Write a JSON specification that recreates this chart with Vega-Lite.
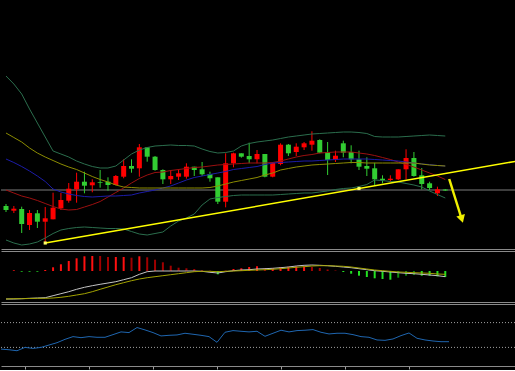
{
  "$schema": "https://vega.github.io/schema/vega-lite/v6.json",
  "background": "#000000",
  "padding": 0,
  "spacing": 2,
  "config": {
    "view": {"stroke": null},
    "axis": {"domainColor": "#8a8a8a", "domainWidth": 1, "ticks": false, "labels": false, "grid": false, "title": null}
  },
  "resolve": {"scale": {"color": "independent", "x": "independent", "y": "independent"}},
  "datasets": {
    "bars": [
      {"i":0,"o":44,"h":46,"l":38,"c":40,"bu":174,"bl":10,"m1":60,"m2":91,"m3":117,"hv":0,"hs":"pu","s1":-28,"s2":-28,"rsi":27.3},
      {"i":1,"o":39.3,"h":44,"l":37,"c":41.3,"bu":166,"bl":7,"m1":57,"m2":87.5,"m3":112.5,"hv":0.7,"hs":"pu","s1":-28,"s2":-27.7,"rsi":26.2},
      {"i":2,"o":41,"h":43.3,"l":17,"c":26,"bu":156,"bl":5,"m1":54,"m2":83.5,"m3":108,"hv":-0.7,"hs":"nu","s1":-27.7,"s2":-27.7,"rsi":24.6},
      {"i":3,"o":25,"h":40,"l":20,"c":37,"bu":141,"bl":6,"m1":52,"m2":79,"m3":102,"hv":-0.7,"hs":"nu","s1":-27.3,"s2":-27.5,"rsi":30},
      {"i":4,"o":36.7,"h":40,"l":22,"c":28.3,"bu":127,"bl":8,"m1":49.5,"m2":74,"m3":97,"hv":-0.7,"hs":"nu","s1":-27,"s2":-27.3,"rsi":28.4},
      {"i":5,"o":28.3,"h":43,"l":6.7,"c":31.7,"bu":113,"bl":12,"m1":46.5,"m2":68.5,"m3":93,"hv":1,"hs":"pu","s1":-26.7,"s2":-27.3,"rsi":30},
      {"i":6,"o":30.7,"h":57.3,"l":30.7,"c":42.3,"bu":99,"bl":16.5,"m1":43.5,"m2":61,"m3":89.5,"hv":3.7,"hs":"pu","s1":-24.7,"s2":-27,"rsi":33.8},
      {"i":7,"o":41.7,"h":57,"l":40,"c":50,"bu":96,"bl":20,"m1":41,"m2":58,"m3":86,"hv":6.7,"hs":"pu","s1":-22.7,"s2":-26.3,"rsi":37.6},
      {"i":8,"o":49.3,"h":67,"l":47.3,"c":61.3,"bu":93,"bl":21.5,"m1":40,"m2":56,"m3":83,"hv":10,"hs":"pu","s1":-20.7,"s2":-25.3,"rsi":43},
      {"i":9,"o":60.7,"h":77.3,"l":47.3,"c":68.3,"bu":89,"bl":22.5,"m1":40.5,"m2":54.5,"m3":80.5,"hv":12.7,"hs":"pu","s1":-18.3,"s2":-24,"rsi":47.4},
      {"i":10,"o":68.3,"h":78.3,"l":56.7,"c":64.3,"bu":86,"bl":23,"m1":43,"m2":53.5,"m3":77,"hv":14.7,"hs":"pu","s1":-16.3,"s2":-22.7,"rsi":45.7},
      {"i":11,"o":64.7,"h":70.7,"l":57.7,"c":67.7,"bu":83.5,"bl":22.5,"m1":45.5,"m2":53,"m3":73.5,"hv":15,"hs":"pu","s1":-14.7,"s2":-20.7,"rsi":47.4},
      {"i":12,"o":67.7,"h":80,"l":62.3,"c":67,"bu":82,"bl":22,"m1":48.5,"m2":53.5,"m3":70.5,"hv":15,"hs":"pd","s1":-13.3,"s2":-18.3,"rsi":46.3},
      {"i":13,"o":68.3,"h":72.7,"l":59.3,"c":65,"bu":82,"bl":21.5,"m1":53,"m2":54,"m3":68,"hv":14,"hs":"pd","s1":-12,"s2":-16,"rsi":46.3},
      {"i":14,"o":65,"h":75,"l":64.7,"c":74,"bu":84,"bl":21.5,"m1":57.5,"m2":54,"m3":65,"hv":14,"hs":"pu","s1":-10.7,"s2":-13.7,"rsi":50.6},
      {"i":15,"o":73.3,"h":90.7,"l":71.7,"c":84,"bu":90,"bl":21,"m1":62,"m2":54.5,"m3":63,"hv":14,"hs":"pu","s1":-8.7,"s2":-11.7,"rsi":55},
      {"i":16,"o":84,"h":90.7,"l":77.3,"c":81.3,"bu":96,"bl":18.5,"m1":67,"m2":55,"m3":62.5,"hv":13.3,"hs":"pd","s1":-6.7,"s2":-9.7,"rsi":53.9},
      {"i":17,"o":81.7,"h":106,"l":73.3,"c":102.7,"bu":100,"bl":16,"m1":71.5,"m2":57,"m3":62,"hv":14.7,"hs":"pu","s1":-3.3,"s2":-8,"rsi":62},
      {"i":18,"o":102.7,"h":102.7,"l":88.3,"c":93.3,"bu":102.5,"bl":15,"m1":75,"m2":58.5,"m3":62,"hv":13.7,"hs":"pd","s1":-0.7,"s2":-6.7,"rsi":58.2},
      {"i":19,"o":93.3,"h":94,"l":79.3,"c":80,"bu":104,"bl":16.5,"m1":77.5,"m2":60,"m3":62,"hv":11.3,"hs":"pd","s1":0,"s2":-5.7,"rsi":53.9},
      {"i":20,"o":80,"h":80.7,"l":66,"c":70.7,"bu":104.5,"bl":18,"m1":78,"m2":62,"m3":62,"hv":8.7,"hs":"pd","s1":0,"s2":-4.7,"rsi":48.5},
      {"i":21,"o":70.7,"h":80,"l":66,"c":74,"bu":105,"bl":24,"m1":79.5,"m2":64,"m3":62,"hv":5.3,"hs":"pd","s1":0,"s2":-3.7,"rsi":49.5},
      {"i":22,"o":73.3,"h":80.7,"l":70,"c":76.7,"bu":104.5,"bl":29,"m1":80.5,"m2":67,"m3":62,"hv":3.3,"hs":"pd","s1":0,"s2":-2.7,"rsi":50.1},
      {"i":23,"o":73.3,"h":86.7,"l":71.3,"c":83.3,"bu":104.5,"bl":32,"m1":81.5,"m2":70,"m3":62,"hv":2.7,"hs":"pd","s1":0,"s2":-1.7,"rsi":52.8},
      {"i":24,"o":83.3,"h":83.3,"l":74,"c":80,"bu":104,"bl":36,"m1":82.5,"m2":72.5,"m3":62,"hv":2,"hs":"pd","s1":0,"s2":-0.7,"rsi":51.2},
      {"i":25,"o":80.7,"h":88,"l":74,"c":75.7,"bu":101,"bl":45,"m1":83,"m2":74,"m3":62,"hv":0.7,"hs":"pd","s1":-0.3,"s2":-0.3,"rsi":49.5},
      {"i":26,"o":76,"h":78.3,"l":68.3,"c":71.7,"bu":98.5,"bl":51,"m1":84,"m2":75.5,"m3":62.5,"hv":0.3,"hs":"pd","s1":-1.3,"s2":-0.3,"rsi":47.4},
      {"i":27,"o":72.7,"h":72.7,"l":46,"c":48.3,"bu":97,"bl":52.5,"m1":85,"m2":77,"m3":64,"hv":-3.3,"hs":"nu","s1":-2,"s2":-0.7,"rsi":38.2},
      {"i":28,"o":48.3,"h":96.7,"l":42.7,"c":86.7,"bu":97.5,"bl":53.5,"m1":85.5,"m2":78.5,"m3":66,"hv":0.3,"hs":"pu","s1":-0.7,"s2":-0.3,"rsi":54.4},
      {"i":29,"o":86.7,"h":97.3,"l":82.7,"c":96.7,"bu":99,"bl":54.5,"m1":86,"m2":80.5,"m3":68,"hv":2,"hs":"pu","s1":0.3,"s2":0,"rsi":57.1},
      {"i":30,"o":96.7,"h":96.7,"l":92.3,"c":93.3,"bu":104,"bl":55,"m1":86.5,"m2":81.5,"m3":69.5,"hv":2.7,"hs":"pu","s1":1,"s2":0.3,"rsi":56},
      {"i":31,"o":94,"h":107.3,"l":86.7,"c":90.7,"bu":106.5,"bl":55,"m1":87,"m2":82.5,"m3":71,"hv":4,"hs":"pu","s1":1.3,"s2":0.7,"rsi":55},
      {"i":32,"o":90.7,"h":100,"l":86.7,"c":96,"bu":108,"bl":55,"m1":87,"m2":83.5,"m3":72.5,"hv":4.7,"hs":"pu","s1":2,"s2":1,"rsi":56},
      {"i":33,"o":96,"h":96,"l":72.7,"c":73.3,"bu":109,"bl":55,"m1":87,"m2":85.5,"m3":75,"hv":3,"hs":"pd","s1":2.3,"s2":1.3,"rsi":47.9},
      {"i":34,"o":73.3,"h":88,"l":72.7,"c":87.3,"bu":110,"bl":55,"m1":87.5,"m2":87,"m3":77,"hv":2.7,"hs":"pu","s1":2.7,"s2":1.7,"rsi":52.8},
      {"i":35,"o":86,"h":106.7,"l":84.7,"c":105.3,"bu":111.5,"bl":55.5,"m1":89,"m2":87.5,"m3":80,"hv":4,"hs":"pu","s1":3.3,"s2":2.3,"rsi":57.7},
      {"i":36,"o":105.3,"h":106,"l":94,"c":96.7,"bu":113,"bl":56,"m1":91,"m2":88,"m3":81.5,"hv":4.3,"hs":"pu","s1":4,"s2":3,"rsi":55},
      {"i":37,"o":98,"h":106.7,"l":94,"c":103.3,"bu":114,"bl":56.5,"m1":93,"m2":88.5,"m3":83,"hv":4.7,"hs":"pu","s1":5,"s2":3.7,"rsi":57.1},
      {"i":38,"o":102.7,"h":108,"l":100,"c":106.7,"bu":115,"bl":57,"m1":94.5,"m2":89,"m3":84,"hv":4.7,"hs":"pu","s1":5.7,"s2":4.3,"rsi":57.7},
      {"i":39,"o":105.3,"h":118.7,"l":99.3,"c":109.3,"bu":116,"bl":57,"m1":95.5,"m2":89,"m3":85,"hv":4,"hs":"pd","s1":6,"s2":5,"rsi":58.7},
      {"i":40,"o":110,"h":110.7,"l":96.7,"c":97.3,"bu":116.5,"bl":58,"m1":97,"m2":89.5,"m3":85.5,"hv":3,"hs":"pd","s1":5.7,"s2":5.3,"rsi":54.4},
      {"i":41,"o":98,"h":108,"l":75,"c":90,"bu":117,"bl":59,"m1":97.5,"m2":90,"m3":86,"hv":1.5,"hs":"pd","s1":5.3,"s2":5.3,"rsi":51.7},
      {"i":42,"o":90,"h":99.3,"l":88,"c":94.3,"bu":117.5,"bl":60.5,"m1":98,"m2":90.5,"m3":86.5,"hv":0.5,"hs":"pd","s1":4.7,"s2":5,"rsi":52.8},
      {"i":43,"o":106.7,"h":109.3,"l":92.7,"c":97.3,"bu":118,"bl":61.5,"m1":98,"m2":91,"m3":87,"hv":-1,"hs":"nu","s1":4,"s2":4.7,"rsi":52.8},
      {"i":44,"o":98,"h":104.7,"l":86.7,"c":90.7,"bu":118,"bl":62,"m1":98,"m2":91,"m3":87.5,"hv":-2.7,"hs":"nu","s1":3.3,"s2":4,"rsi":50.6},
      {"i":45,"o":90.7,"h":99.3,"l":80,"c":83.3,"bu":117.5,"bl":63.5,"m1":97,"m2":91,"m3":87.5,"hv":-4.7,"hs":"nu","s1":2.3,"s2":3,"rsi":47.4},
      {"i":46,"o":84,"h":92.7,"l":74,"c":81.3,"bu":116.5,"bl":65.5,"m1":96,"m2":91,"m3":87,"hv":-6,"hs":"nu","s1":1.3,"s2":2,"rsi":46.3},
      {"i":47,"o":81.7,"h":87.3,"l":65,"c":70.7,"bu":113.5,"bl":70,"m1":94.5,"m2":90.5,"m3":87,"hv":-7.3,"hs":"nu","s1":0.3,"s2":1,"rsi":42},
      {"i":48,"o":71.3,"h":74.7,"l":66.7,"c":70,"bu":113,"bl":69.5,"m1":92.5,"m2":90,"m3":87,"hv":-8,"hs":"nu","s1":-0.3,"s2":0.3,"rsi":41.4},
      {"i":49,"o":70,"h":74.7,"l":68.3,"c":71.3,"bu":113,"bl":68.5,"m1":90.5,"m2":89.5,"m3":87,"hv":-8.7,"hs":"nu","s1":-1,"s2":-0.3,"rsi":43.6},
      {"i":50,"o":70.7,"h":80.7,"l":70,"c":80.7,"bu":113,"bl":68,"m1":88,"m2":89,"m3":87,"hv":-6.7,"hs":"nd","s1":-1.7,"s2":-1,"rsi":49},
      {"i":51,"o":80.7,"h":100.7,"l":70.7,"c":92,"bu":113.5,"bl":66.5,"m1":85.5,"m2":88,"m3":87,"hv":-4.7,"hs":"nd","s1":-2.3,"s2":-1.3,"rsi":53.3},
      {"i":52,"o":92,"h":98,"l":73.3,"c":74,"bu":114,"bl":65,"m1":83,"m2":87,"m3":87,"hv":-4,"hs":"nd","s1":-2.7,"s2":-1.7,"rsi":44.7},
      {"i":53,"o":74.7,"h":82,"l":60.7,"c":66,"bu":114.5,"bl":63,"m1":80,"m2":86,"m3":86,"hv":-4.7,"hs":"nu","s1":-3.3,"s2":-2,"rsi":42},
      {"i":54,"o":66.7,"h":68.3,"l":60,"c":62,"bu":115,"bl":59,"m1":77,"m2":85.5,"m3":85,"hv":-4.7,"hs":"nu","s1":-4,"s2":-2.3,"rsi":40.3},
      {"i":55,"o":56.7,"h":63.3,"l":54,"c":60.7,"bu":114.5,"bl":55.5,"m1":74,"m2":84.5,"m3":84.5,"hv":-5.3,"hs":"nu","s1":-4.7,"s2":-3,"rsi":39.2},
      {"i":56,"o":60.5,"h":61,"l":59,"c":59.5,"bu":114,"bl":52,"m1":70.5,"m2":84,"m3":84,"hv":-6,"hs":"nu","s1":-5.7,"s2":-3.3,"rsi":39.2}
    ],
    "trend": [{"i":5,"p":7},{"i":66,"p":90.1}],
    "anchors": [{"i":5,"p":7},{"i":45,"p":61.5}],
    "arrow": [{"i":56.5,"p":71},{"i":58.05,"p":32}],
    "arrowhead": [{"i":58.1,"p":31}],
    "bid": [{"p":60}],
    "levels": [{"lv":70},{"lv":30}]
  },
  "vconcat": [
    {
      "width": 514,
      "height": 249,
      "encoding": {
        "x": {"field": "i", "type": "quantitative", "scale": {"domain": [0, 64.25], "nice": false, "zero": false}, "axis": {"orient": "bottom"}}
      },
      "layer": [
        {
          "data": {"name": "bid"},
          "mark": {"type": "rule", "color": "#7c7c7c", "strokeWidth": 1},
          "encoding": {"x": null, "y": {"field": "p", "type": "quantitative", "scale": {"domain": [1, 250], "nice": false, "zero": false}, "axis": null}}
        },
        {
          "data": {"name": "bars"},
          "mark": {"type": "rule", "strokeWidth": 1, "clip": true},
          "encoding": {
            "y": {"field": "l", "type": "quantitative"},
            "y2": {"field": "h"},
            "color": {"condition": {"test": "datum.c >= datum.o", "value": "#ff0000"}, "value": "#32cd32"}
          }
        },
        {
          "data": {"name": "bars"},
          "mark": {"type": "bar", "size": 5, "clip": true},
          "encoding": {
            "y": {"field": "o", "type": "quantitative"},
            "y2": {"field": "c"},
            "color": {"condition": {"test": "datum.c >= datum.o", "value": "#ff0000"}, "value": "#32cd32"}
          }
        },
        {
          "data": {"name": "bars"},
          "transform": [{"fold": ["bu", "bl", "m1", "m2", "m3"], "as": ["k", "v"]}],
          "mark": {"type": "line", "strokeWidth": 1, "clip": true},
          "encoding": {
            "y": {"field": "v", "type": "quantitative"},
            "detail": {"field": "k"},
            "color": {"field": "k", "type": "nominal", "scale": {"domain": ["bu", "bl", "m1", "m2", "m3"], "range": ["#2b6e4d", "#2b6e4d", "#9c1010", "#1c1ca8", "#8c8c00"]}, "legend": null}
          }
        },
        {
          "data": {"name": "trend"},
          "mark": {"type": "line", "color": "#ffff00", "strokeWidth": 1.5, "clip": true},
          "encoding": {"y": {"field": "p", "type": "quantitative"}}
        },
        {
          "data": {"name": "anchors"},
          "mark": {"type": "point", "shape": "square", "filled": true, "size": 10, "color": "#ffff66", "opacity": 1},
          "encoding": {"y": {"field": "p", "type": "quantitative"}}
        },
        {
          "data": {"name": "arrow"},
          "mark": {"type": "line", "color": "#f0f000", "strokeWidth": 2.5, "clip": true},
          "encoding": {"y": {"field": "p", "type": "quantitative"}}
        },
        {
          "data": {"name": "arrowhead"},
          "mark": {"type": "point", "shape": "triangle-down", "filled": true, "size": 80, "angle": -17, "color": "#f0f000", "opacity": 1},
          "encoding": {"y": {"field": "p", "type": "quantitative"}}
        }
      ]
    },
    {
      "width": 514,
      "height": 51,
      "data": {"name": "bars"},
      "encoding": {
        "x": {"field": "i", "type": "quantitative", "scale": {"domain": [0, 64.25], "nice": false, "zero": false}}
      },
      "resolve": {"axis": {"x": "independent"}},
      "layer": [
        {
          "mark": {"type": "bar", "size": 2, "clip": true},
          "encoding": {
            "x": {"field": "i", "type": "quantitative", "axis": {"orient": "top"}},
            "y": {"field": "hv", "type": "quantitative", "scale": {"domain": [-31, 20], "nice": false, "zero": false}, "axis": null},
            "y2": {"datum": 0},
            "color": {"field": "hs", "type": "nominal", "scale": {"domain": ["pu", "pd", "nu", "nd"], "range": ["#ff1010", "#a00000", "#22e022", "#0c8a0c"]}, "legend": null}
          }
        },
        {
          "transform": [{"fold": ["s1", "s2"], "as": ["k", "v"]}],
          "mark": {"type": "line", "strokeWidth": 1, "clip": true},
          "encoding": {
            "x": {"field": "i", "type": "quantitative", "axis": {"orient": "bottom"}},
            "y": {"field": "v", "type": "quantitative"},
            "detail": {"field": "k"},
            "stroke": {"field": "k", "type": "nominal", "scale": {"domain": ["s1", "s2"], "range": ["#c4c4c4", "#a3a300"]}, "legend": null}
          }
        }
      ]
    },
    {
      "width": 514,
      "height": 62,
      "encoding": {
        "x": {"field": "i", "type": "quantitative", "scale": {"domain": [0, 64.25], "nice": false, "zero": false}}
      },
      "resolve": {"axis": {"x": "independent"}},
      "layer": [
        {
          "data": {"name": "levels"},
          "mark": {"type": "rule", "color": "#a0a0a0", "strokeWidth": 1, "strokeDash": [1, 2]},
          "encoding": {"x": null, "y": {"field": "lv", "type": "quantitative", "scale": {"domain": [0, 100], "nice": false, "zero": false}, "axis": null}}
        },
        {
          "data": {"name": "bars"},
          "mark": {"type": "line", "color": "#1f66b0", "strokeWidth": 1, "clip": true},
          "encoding": {
            "x": {"field": "i", "type": "quantitative", "axis": {"orient": "top"}},
            "y": {"field": "rsi", "type": "quantitative"}
          }
        },
        {
          "data": {"name": "bars"},
          "mark": {"type": "line", "opacity": 0, "clip": true},
          "encoding": {
            "x": {"field": "i", "type": "quantitative", "axis": {"orient": "bottom", "values": [3, 11, 19, 27, 35, 43, 51], "ticks": true, "tickSize": 3, "tickColor": "#a0a0a0"}},
            "y": {"field": "rsi", "type": "quantitative"}
          }
        }
      ]
    }
  ]
}
